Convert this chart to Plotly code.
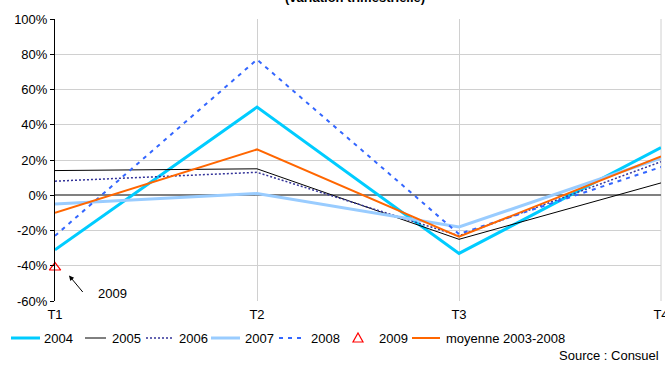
import plotly.graph_objects as go

# ---- data ----
quarters = ["T1", "T2", "T3", "T4"]
s2004 = [-31, 50, -33, 27]
s2005 = [14, 15, -25, 7]
s2006 = [8, 13, -23, 19]
s2007 = [-5, 1, -18, 21]
s2008 = [-23, 77, -22, 16]
s2009 = [-41]
moyenne = [-10, 26, -23.5, 22]
y_ticks = [-60, -40, -20, 0, 20, 40, 60, 80, 100]

series = [
    ("2004", s2004, dict(color="#00CCFF", width=3, dash="solid")),
    ("2005", s2005, dict(color="#000000", width=1, dash="solid")),
    ("2006", s2006, dict(color="#333399", width=1.5, dash="2px,2px")),
    ("2007", s2007, dict(color="#99CCFF", width=3, dash="solid")),
    ("2008", s2008, dict(color="#3366FF", width=2, dash="4px,5px")),
]

FONT = "Liberation Sans, Arial, sans-serif"
fig = go.Figure()
for name, vals, ln in series:
    fig.add_trace(go.Scatter(x=quarters[:len(vals)], y=vals, mode="lines", name=name,
                             line=ln, showlegend=False, cliponaxis=False))
fig.add_trace(go.Scatter(x=quarters[:len(s2009)], y=s2009, mode="markers", name="2009",
                         marker=dict(symbol="triangle-up-open", size=10, color="#FF0000",
                                     line=dict(width=1.2, color="#FF0000")),
                         showlegend=False, cliponaxis=False))
fig.add_trace(go.Scatter(x=quarters, y=moyenne, mode="lines", name="moyenne 2003-2008",
                         line=dict(color="#FF6600", width=2), showlegend=False, cliponaxis=False))

# plot area geometry (pixels)
L, R, T, B = 55, 661, 19, 301
W, H = 665, 365
def px(x):
    return (x - L) / (R - L)
def py(y):
    return (B - y) / (B - T)

shapes = []
annotations = []

# right edge gridline (T4)
shapes.append(dict(type="line", xref="paper", yref="paper", x0=1, x1=1, y0=0, y1=1,
                   line=dict(color="#D0D0D0", width=1), layer="below"))

# custom legend
leg_y = 338
legend_items = [
    ("2004", series[0][2], 11, 40, 42),
    ("2005", series[1][2], 85, 106, 110),
    ("2006", series[2][2], 146, 174, 177),
    ("2007", series[3][2], 211, 240, 243),
    ("2008", series[4][2], 279, 304, 309),
    ("moyenne 2003-2008", dict(color="#FF6600", width=2, dash="solid"), 412, 440, 444),
]
for name, ln, x0, x1, xt in legend_items:
    shapes.append(dict(type="line", xref="paper", yref="paper",
                       x0=px(x0), x1=px(x1), y0=py(leg_y), y1=py(leg_y),
                       line=dict(color=ln["color"], width=ln["width"], dash=ln["dash"])))
    annotations.append(dict(text=name, xref="paper", yref="paper", x=px(xt), y=py(leg_y),
                            xanchor="left", yanchor="middle", showarrow=False,
                            font=dict(size=13, color="#000", family=FONT)))
# triangle in legend
tx, ty = 358, leg_y
shapes.append(dict(type="path", xref="paper", yref="paper",
                   path=f"M {px(tx-5)} {py(ty+4)} L {px(tx+5)} {py(ty+4)} L {px(tx)} {py(ty-5)} Z",
                   line=dict(color="#FF0000", width=1.2)))
annotations.append(dict(text="2009", xref="paper", yref="paper", x=px(377), y=py(leg_y),
                        xanchor="left", yanchor="middle", showarrow=False,
                        font=dict(size=13, color="#000", family=FONT)))

# 2009 arrow + label
annotations.append(dict(x="T1", y=s2009[0], xref="x", yref="y", text="", showarrow=True,
                        arrowhead=2, arrowsize=1, arrowwidth=1, arrowcolor="#000",
                        xshift=14, yshift=-8, ax=15, ay=18))
annotations.append(dict(x="T1", y=s2009[0], xref="x", yref="y", text="2009", showarrow=False,
                        xshift=57, yshift=-26, font=dict(size=13, color="#000", family=FONT)))

# title (partly cut off, as in the reference)
annotations.append(dict(text="<b>(variation trimestrielle)</b>", xref="paper", yref="paper",
                        x=px(355), y=py(-3), xanchor="center", yanchor="middle", showarrow=False,
                        font=dict(size=13, color="#000", family=FONT)))
# source
annotations.append(dict(text="Source : Consuel", xref="paper", yref="paper",
                        x=px(661), y=py(356), xanchor="right", yanchor="middle", showarrow=False,
                        font=dict(size=13, color="#000", family=FONT)))

fig.update_layout(
    width=W, height=H,
    margin=dict(l=L, r=W - R, t=T, b=H - B, pad=0, autoexpand=False),
    paper_bgcolor="white", plot_bgcolor="white",
    font=dict(family=FONT, size=13, color="#000"),
    shapes=shapes, annotations=annotations,
    showlegend=False,
)
fig.update_xaxes(type="category", range=[0, 3], showgrid=True, gridcolor="#D0D0D0", gridwidth=1,
                 showline=False, zeroline=False, ticks="", ticklabelstandoff=4, automargin=False,
                 tickfont=dict(size=13, color="#000"))
fig.update_yaxes(range=[-60, 100], tickvals=y_ticks, ticktext=[f"{v}%" for v in y_ticks],
                 showgrid=True, gridcolor="#D0D0D0", gridwidth=1, automargin=False,
                 zeroline=True, zerolinecolor="#808080", zerolinewidth=2,
                 showline=True, linecolor="#000", linewidth=1,
                 ticks="outside", ticklen=4, tickcolor="#000",
                 tickfont=dict(size=13, color="#000"))

fig.write_html("out.html")
